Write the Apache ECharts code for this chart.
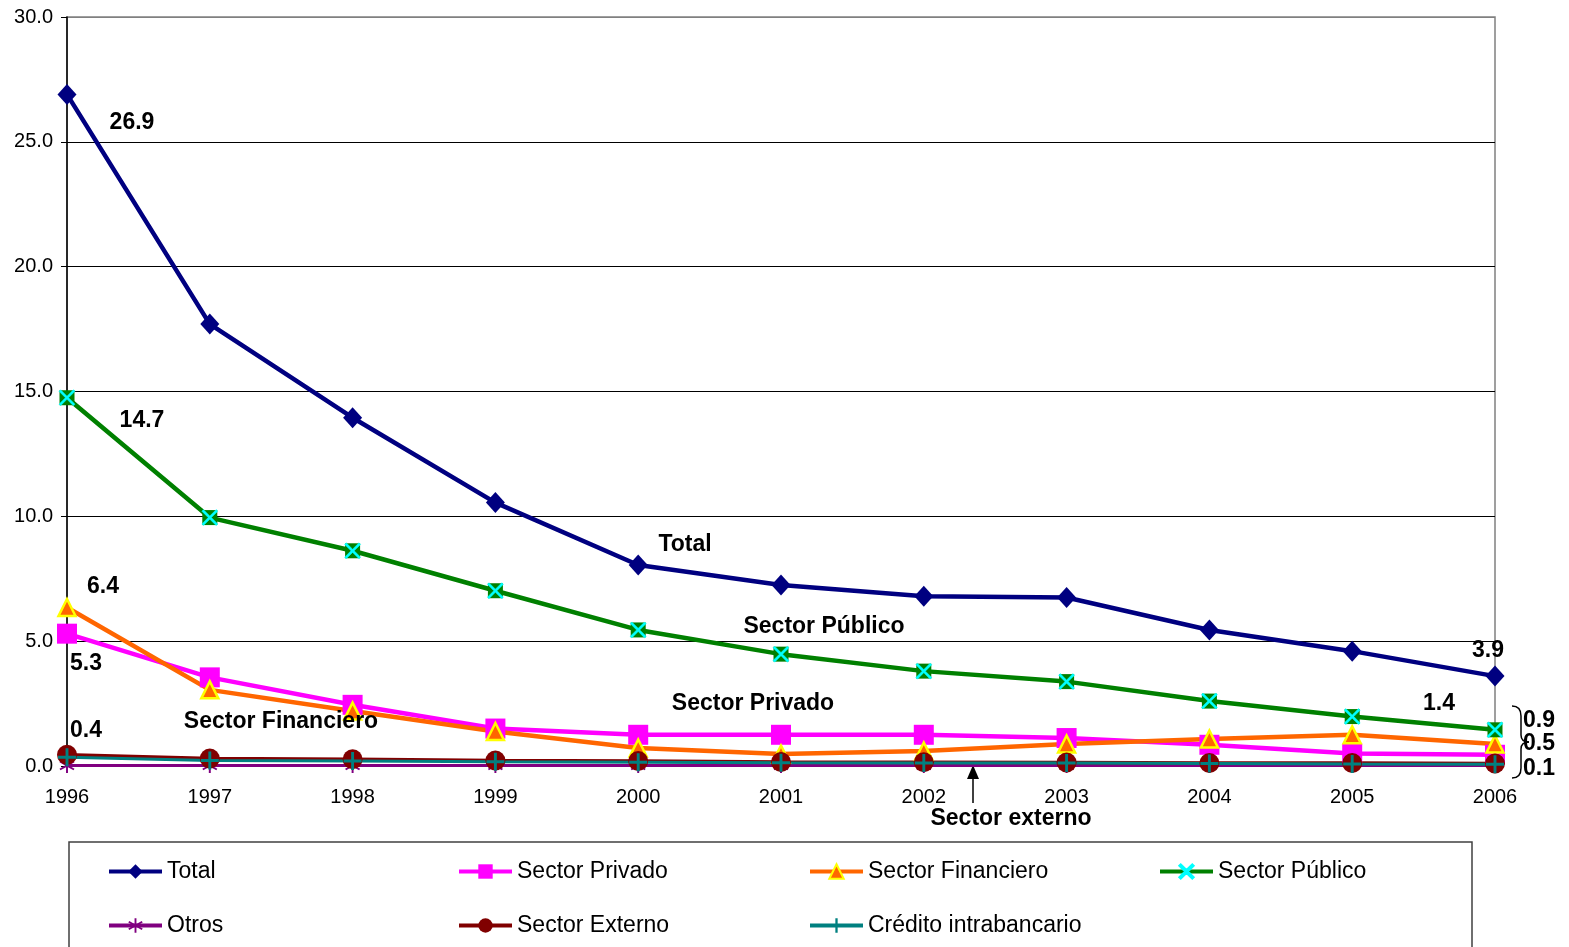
<!DOCTYPE html>
<html>
<head>
<meta charset="utf-8">
<script src="https://cdn.jsdelivr.net/npm/echarts@6/dist/echarts.min.js"></script>
<style>html,body{margin:0;padding:0;background:#fff}#c{width:1569px;height:947px}</style>
</head>
<body>
<div id="c"></div>
<script>
const years = ['1996','1997','1998','1999','2000','2001','2002','2003','2004','2005','2006'];
const total      = [26.9, 17.7, 13.95, 10.55, 8.05, 7.25, 6.8, 6.75, 5.45, 4.6, 3.6];
const privado    = [5.3, 3.55, 2.45, 1.5, 1.25, 1.25, 1.25, 1.12, 0.85, 0.5, 0.45];
const financiero = [6.35, 3.05, 2.2, 1.38, 0.72, 0.48, 0.6, 0.88, 1.08, 1.25, 0.88];
const publico    = [14.75, 9.95, 8.62, 7.02, 5.45, 4.48, 3.8, 3.38, 2.6, 1.98, 1.45];
const otros      = [0.02, 0.02, 0.02, 0.02, 0.02, 0.02, 0.02, 0.02, 0.02, 0.02, 0.02];
const externo    = [0.45, 0.3, 0.27, 0.22, 0.2, 0.16, 0.15, 0.14, 0.12, 0.12, 0.1];
const credito    = [0.35, 0.22, 0.2, 0.17, 0.15, 0.13, 0.12, 0.12, 0.1, 0.08, 0.07];
const seriesNames = ['Total','Sector Privado','Sector Financiero','Sector Público','Otros','Sector Externo','Crédito intrabancario'];
const yTicks = ['0.0','5.0','10.0','15.0','20.0','25.0','30.0'];
const notes = [
  {t:'26.9', x:132, y:123}, {t:'14.7', x:142, y:421}, {t:'6.4', x:103, y:587},
  {t:'5.3', x:86, y:664}, {t:'0.4', x:86, y:731}, {t:'Total', x:685, y:545},
  {t:'Sector Público', x:824, y:627}, {t:'Sector Privado', x:753, y:704},
  {t:'Sector Financiero', x:281, y:722}, {t:'3.9', x:1488, y:651},
  {t:'1.4', x:1439, y:704}, {t:'0.9', x:1539, y:721}, {t:'0.5', x:1539, y:744},
  {t:'0.1', x:1539, y:769}, {t:'Sector externo', x:1011, y:819}
];

const FONT = '"Liberation Sans", Arial, sans-serif';
const plusPath = 'path://M4.2,0h1.6v4.2h4.2v1.6h-4.2v4.2h-1.6v-4.2h-4.2v-1.6h4.2z';
const xPath = 'path://M0,1L1,0L5,4L9,0L10,1L6,5L10,9L9,10L5,6L1,10L0,9L4,5Z';
const starPath = 'path://M4.4,0h1.2v3.9l3.4,-2l0.6,1l-3.4,2.1l3.4,2.1l-0.6,1l-3.4,-2v3.9h-1.2v-3.9l-3.4,2l-0.6,-1l3.4,-2.1l-3.4,-2.1l0.6,-1l3.4,2z';

function mk(name, data, color, lw, symbol, size, extra) {
  return Object.assign({
    name, type:'line', data, symbol, symbolSize:size, showAllSymbol:true,
    lineStyle:{color, width:lw}, itemStyle:{color}, emphasis:{disabled:true}
  }, extra || {});
}

const series = [
  mk(seriesNames[0], total, '#000080', 4.5, 'diamond', [19,21]),
  mk(seriesNames[1], privado, '#FF00FF', 4.5, 'rect', 20),
  mk(seriesNames[2], financiero, '#FF6600', 4.5, 'triangle', 17, {itemStyle:{color:'#FF6600', borderColor:'#FFFF00', borderWidth:2.5}}),
  // green square backing for the Sector Público markers (not in legend)
  mk('_pubBox', publico, '#008000', 0, 'rect', 15, {lineStyle:{width:0, opacity:0}, z:3}),
  mk(seriesNames[3], publico, '#008000', 4.5, xPath, 16, {itemStyle:{color:'#00FFFF', borderColor:'#00FFFF', borderWidth:0.5}, z:4}),
  mk(seriesNames[4], otros, '#800080', 3, starPath, 15),
  mk(seriesNames[5], externo, '#800000', 3.5, 'circle', 20),
  mk(seriesNames[6], credito, '#008080', 3, plusPath, 18)
];

const legendPos = [
  [102,855],[452,855],[803,855],[1153,855],
  [102,909],[452,909],[803,909]
];
const legends = seriesNames.map((n,i)=>({
  data:[n], left:legendPos[i][0], top:legendPos[i][1], itemWidth:53, itemHeight:18, itemGap:0,
  lineStyle:{width:4},
  textStyle:{fontFamily:FONT, fontSize:23, color:'#000'}, selectedMode:false
}));

const bs = {fill:'none', stroke:'#000', lineWidth:1.5};
const graphics = [
  {type:'rect', shape:{x:69, y:842, width:1403, height:130}, style:{fill:'none', stroke:'#404040', lineWidth:1.5}},
  {type:'bezierCurve', shape:{x1:1512,y1:706,cpx1:1521,cpy1:706,x2:1521,y2:716}, style:bs},
  {type:'line', shape:{x1:1521,y1:716,x2:1521,y2:735}, style:bs},
  {type:'bezierCurve', shape:{x1:1521,y1:735,cpx1:1521,cpy1:742,x2:1529,y2:742}, style:bs},
  {type:'bezierCurve', shape:{x1:1529,y1:742,cpx1:1521,cpy1:742,x2:1521,y2:749}, style:bs},
  {type:'line', shape:{x1:1521,y1:749,x2:1521,y2:768}, style:bs},
  {type:'bezierCurve', shape:{x1:1521,y1:768,cpx1:1521,cpy1:778,x2:1512,y2:778}, style:bs},
  {type:'line', shape:{x1:973, y1:803, x2:973, y2:776}, style:{stroke:'#000', lineWidth:1.5}},
  {type:'polygon', shape:{points:[[973,765],[967,779],[979,779]]}, style:{fill:'#000'}}
].concat(notes.map(n=>({
  type:'text', x:n.x, y:n.y, z:100,
  style:{text:n.t, font:'bold 23px ' + FONT, fill:'#000', textAlign:'center', textVerticalAlign:'middle'}
})));

const chart = echarts.init(document.getElementById('c'));
chart.setOption({
  animation:false,
  backgroundColor:'#fff',
  grid:{left:67, right:74, top:17, bottom:181, show:true, borderColor:'#808080', borderWidth:1.5},
  legend:legends,
  xAxis:{type:'category', data:years, boundaryGap:false,
    axisLine:{lineStyle:{color:'#000', width:1.5}}, axisTick:{show:false},
    axisLabel:{fontFamily:FONT, fontSize:20, color:'#000', margin:21}},
  yAxis:{type:'value', min:0, max:30, interval:5,
    axisLine:{show:true, lineStyle:{color:'#000', width:1.5}},
    axisTick:{show:true, length:6, lineStyle:{color:'#000'}},
    axisLabel:{fontFamily:FONT, fontSize:20, color:'#000', margin:14, formatter:(v)=>yTicks[Math.round(v/5)]},
    splitLine:{lineStyle:{color:['#000','#000','#000','#000','#000','#000','#808080'], width:1}}},
  series,
  graphic:graphics
});
</script>
</body>
</html>
